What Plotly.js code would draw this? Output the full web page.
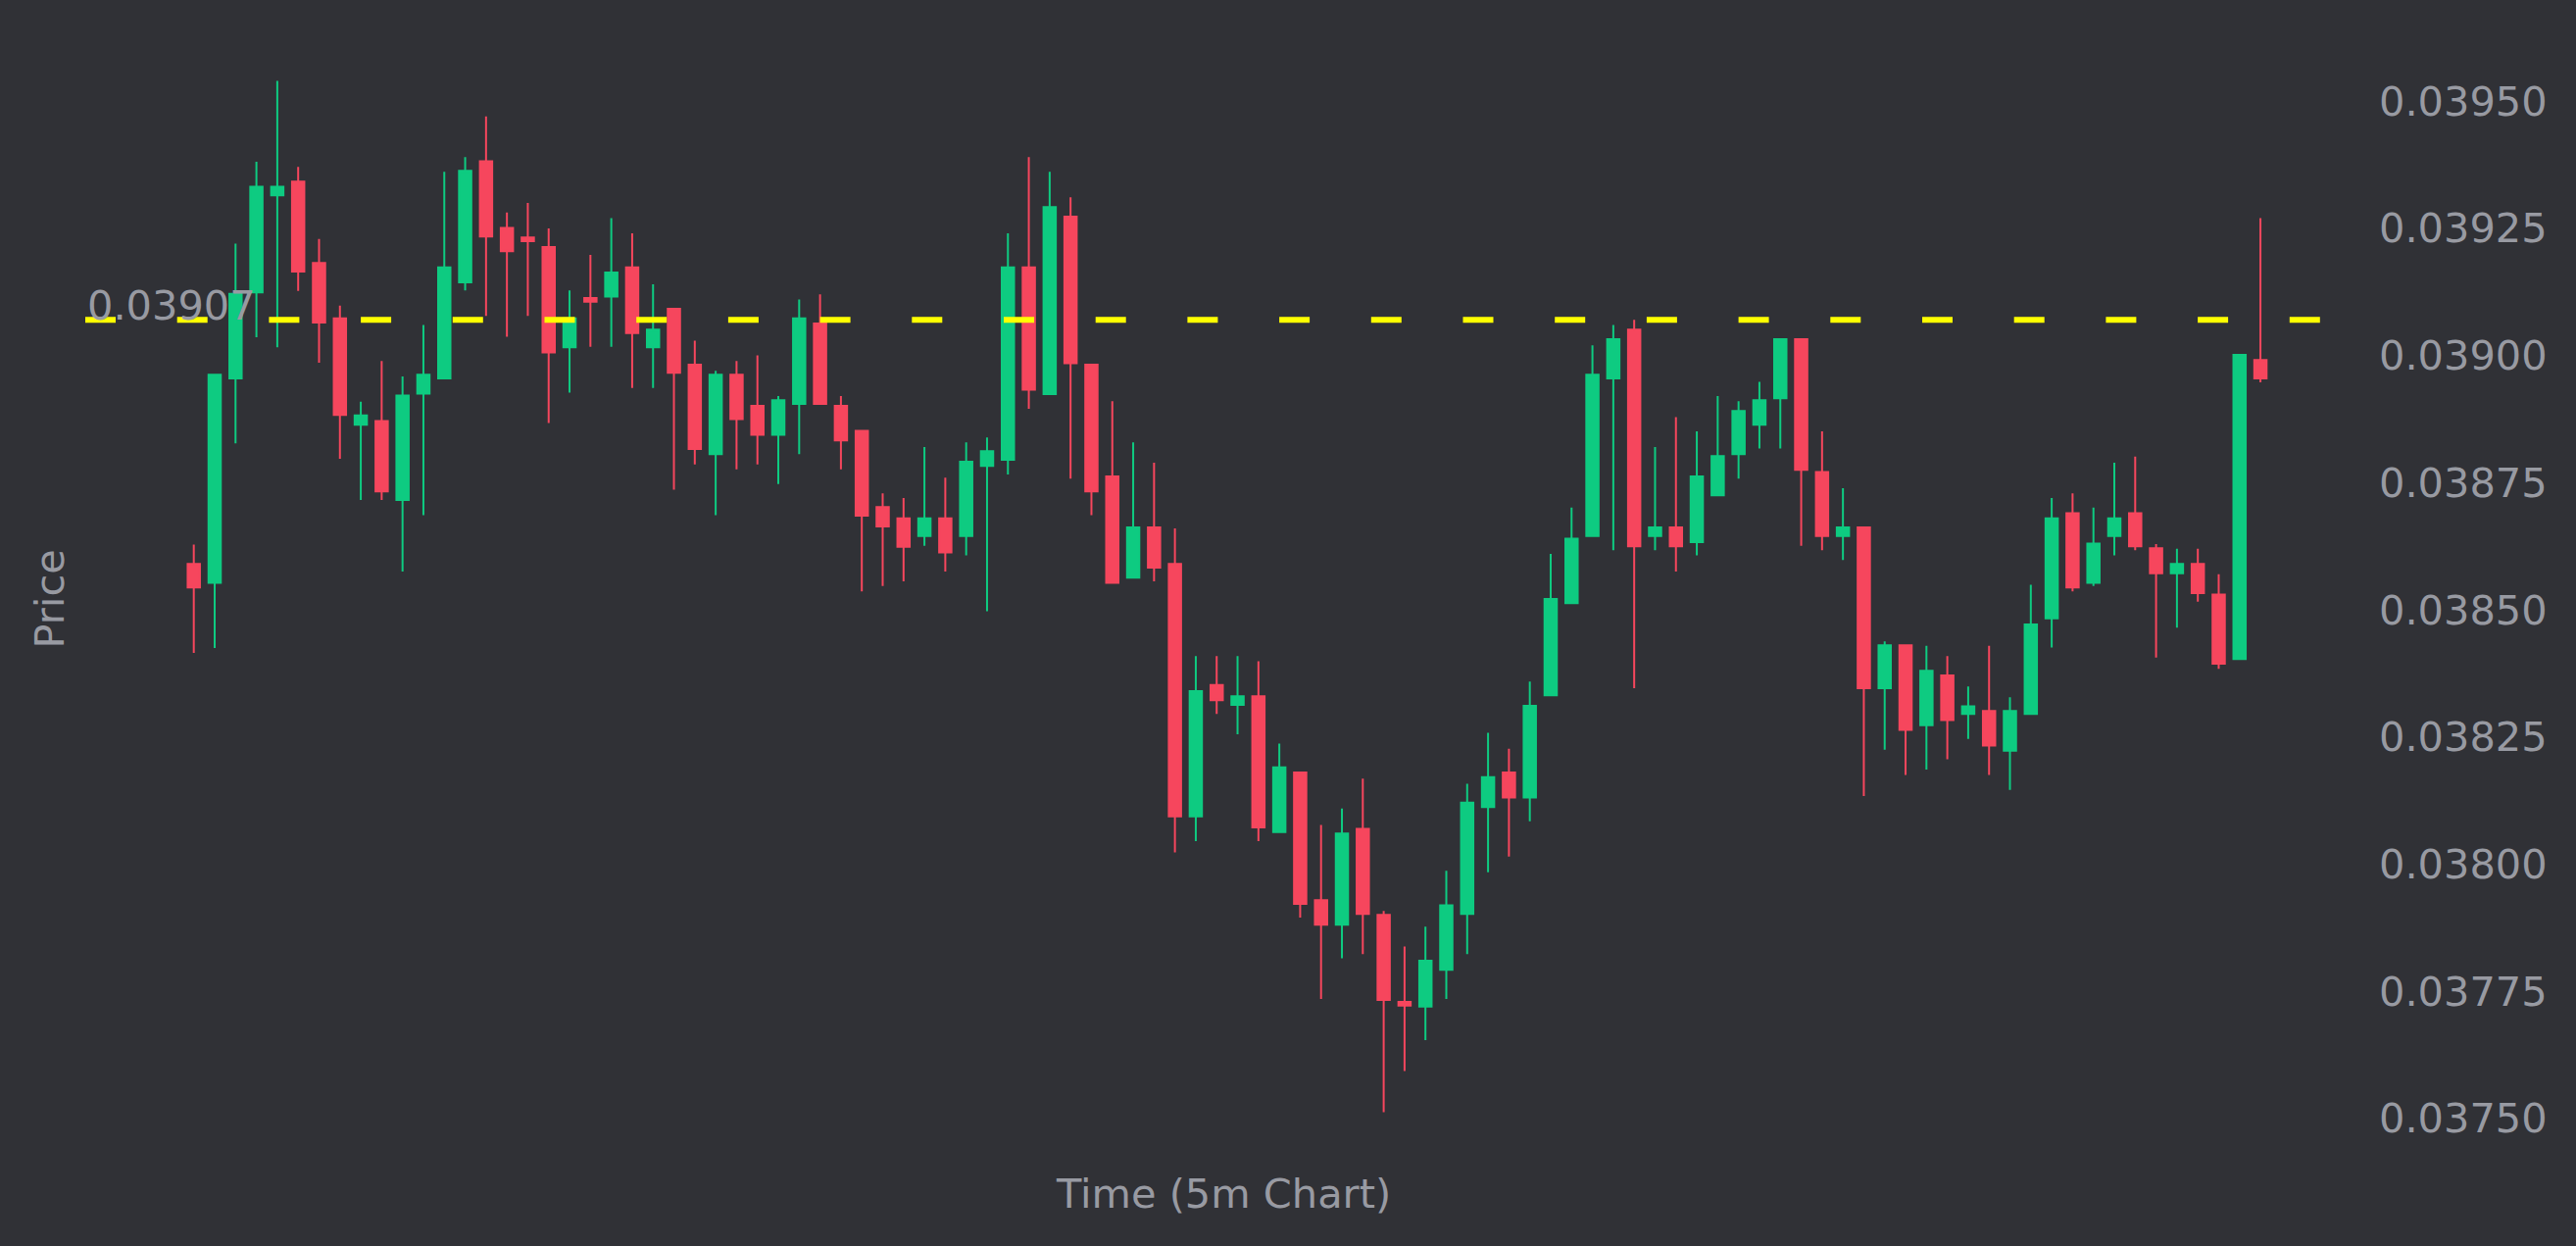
<!DOCTYPE html>
<html>
<head>
<meta charset="utf-8">
<script src="https://cdn.plot.ly/plotly-3.0.1.min.js"></script>
<style>
  html, body { margin: 0; padding: 0; background: #303136; }
  #chart { width: 2628px; height: 1271px; }
</style>
</head>
<body>
<div id="chart"></div>
<script>
// 5-minute candles, oldest first
const open = [
  0.038590, 0.038553, 0.038955, 0.039124, 0.039315, 0.039342, 0.039182, 0.039073, 0.038864, 0.038871,
  0.038716, 0.038925, 0.038955, 0.039144, 0.039382, 0.039251, 0.039232, 0.039213, 0.039016, 0.039113,
  0.039116, 0.039173, 0.039016, 0.039092, 0.038982, 0.038806, 0.038962, 0.038901, 0.038844, 0.038905,
  0.039063, 0.038901, 0.038852, 0.038702, 0.038680, 0.038645, 0.038680, 0.038645, 0.038783, 0.038795,
  0.039173, 0.038924, 0.039273, 0.038982, 0.038762, 0.038563, 0.038662, 0.038590, 0.038094, 0.038352,
  0.038313, 0.038330, 0.038063, 0.038180, 0.037929, 0.037881, 0.038069, 0.037900, 0.037729, 0.037720,
  0.037792, 0.037902, 0.038112, 0.038180, 0.038131, 0.038332, 0.038513, 0.038645, 0.038955, 0.039051,
  0.038645, 0.038662, 0.038633, 0.038725, 0.038806, 0.038864, 0.038916, 0.039032, 0.038771, 0.038645,
  0.038662, 0.038346, 0.038430, 0.038273, 0.038371, 0.038295, 0.038301, 0.038223, 0.038295, 0.038483,
  0.038690, 0.038553, 0.038645, 0.038690, 0.038621, 0.038572, 0.038590, 0.038530, 0.038403, 0.038991
];
const high = [
  0.038628, 0.038962, 0.039220, 0.039381, 0.039540, 0.039371, 0.039229, 0.039098, 0.038909, 0.038989,
  0.038959, 0.039060, 0.039361, 0.039390, 0.039470, 0.039281, 0.039300, 0.039250, 0.039128, 0.039198,
  0.039270, 0.039240, 0.039140, 0.039092, 0.039029, 0.038970, 0.038989, 0.039000, 0.038920, 0.039110,
  0.039120, 0.038920, 0.038852, 0.038729, 0.038720, 0.038820, 0.038760, 0.038829, 0.038839, 0.039240,
  0.039390, 0.039361, 0.039311, 0.038982, 0.038910, 0.038829, 0.038789, 0.038660, 0.038409, 0.038409,
  0.038409, 0.038399, 0.038237, 0.038180, 0.038077, 0.038109, 0.038168, 0.037908, 0.037838, 0.037877,
  0.037987, 0.038158, 0.038258, 0.038227, 0.038359, 0.038610, 0.038701, 0.039020, 0.039060, 0.039070,
  0.038820, 0.038879, 0.038851, 0.038920, 0.038910, 0.038948, 0.039032, 0.039032, 0.038851, 0.038739,
  0.038662, 0.038438, 0.038430, 0.038429, 0.038409, 0.038349, 0.038429, 0.038328, 0.038549, 0.038720,
  0.038729, 0.038701, 0.038789, 0.038801, 0.038629, 0.038620, 0.038620, 0.038570, 0.039001, 0.039270
];
const low = [
  0.038415, 0.038425, 0.038827, 0.039036, 0.039016, 0.039127, 0.038986, 0.038797, 0.038716, 0.038716,
  0.038575, 0.038686, 0.038955, 0.039128, 0.039078, 0.039037, 0.039078, 0.038867, 0.038927, 0.039017,
  0.039017, 0.038936, 0.038936, 0.038736, 0.038786, 0.038686, 0.038776, 0.038786, 0.038747, 0.038806,
  0.038905, 0.038776, 0.038536, 0.038547, 0.038556, 0.038626, 0.038575, 0.038607, 0.038497, 0.038766,
  0.038895, 0.038924, 0.038758, 0.038686, 0.038553, 0.038563, 0.038556, 0.038023, 0.038045, 0.038295,
  0.038255, 0.038045, 0.038063, 0.037895, 0.037735, 0.037815, 0.037823, 0.037512, 0.037593, 0.037654,
  0.037735, 0.037823, 0.037984, 0.038015, 0.038084, 0.038332, 0.038513, 0.038645, 0.038617, 0.038346,
  0.038617, 0.038575, 0.038607, 0.038725, 0.038758, 0.038817, 0.038817, 0.038626, 0.038617, 0.038598,
  0.038134, 0.038225, 0.038175, 0.038186, 0.038206, 0.038246, 0.038175, 0.038146, 0.038295, 0.038426,
  0.038536, 0.038547, 0.038607, 0.038617, 0.038406, 0.038465, 0.038516, 0.038384, 0.038403, 0.038947
];
const close = [
  0.038544, 0.038962, 0.039121, 0.039332, 0.039332, 0.039165, 0.039065, 0.038883, 0.038882, 0.038733,
  0.038921, 0.038962, 0.039173, 0.039363, 0.039234, 0.039205, 0.039225, 0.039006, 0.039073, 0.039106,
  0.039163, 0.039044, 0.039051, 0.038966, 0.038816, 0.038962, 0.038875, 0.038844, 0.038912, 0.039073,
  0.038905, 0.038833, 0.038685, 0.038664, 0.038624, 0.038680, 0.038613, 0.038791, 0.038812, 0.039173,
  0.038933, 0.039292, 0.038985, 0.038733, 0.038553, 0.038662, 0.038583, 0.038094, 0.038340, 0.038322,
  0.038330, 0.038072, 0.038190, 0.037922, 0.037881, 0.038060, 0.037902, 0.037733, 0.037722, 0.037810,
  0.037919, 0.038121, 0.038171, 0.038131, 0.038311, 0.038521, 0.038640, 0.038962, 0.039032, 0.038625,
  0.038662, 0.038625, 0.038762, 0.038802, 0.038891, 0.038912, 0.039032, 0.038775, 0.038645, 0.038662,
  0.038346, 0.038430, 0.038264, 0.038380, 0.038283, 0.038310, 0.038233, 0.038301, 0.038471, 0.038680,
  0.038544, 0.038630, 0.038680, 0.038625, 0.038572, 0.038590, 0.038533, 0.038394, 0.039001, 0.038955
];

// Price tick values on the right axis
const priceTicks = [0.03750, 0.03775, 0.03800, 0.03825, 0.03850, 0.03875, 0.03900, 0.03925, 0.03950];
const priceTickText = ['0.03750', '0.03775', '0.03800', '0.03825', '0.03850', '0.03875', '0.03900', '0.03925', '0.03950'];

// Horizontal reference level
const levelPrice = 0.03907;
const levelText = '0.03907';

const bg = '#303136';
const textGray = '#989aa2';
const upColor = '#0ecb81';
const downColor = '#f6465d';
const fontSize = 41.5;

const candleIndex = open.map((_, i) => i);

const trace = {
  type: 'candlestick',
  x: candleIndex,
  open: open,
  high: high,
  low: low,
  close: close,
  increasing: { line: { color: upColor, width: 2 }, fillcolor: upColor },
  decreasing: { line: { color: downColor, width: 2 }, fillcolor: downColor },
  whiskerwidth: 0,
  hoverinfo: 'none',
  showlegend: false
};

const layout = {
  width: 2628,
  height: 1271,
  paper_bgcolor: bg,
  plot_bgcolor: bg,
  font: { family: 'DejaVu Sans', color: textGray, size: fontSize },
  margin: { l: 87, r: 218, t: 24, b: 78, pad: 0 },
  boxgap: 0.16,
  boxgroupgap: 0.3,
  showlegend: false,
  xaxis: {
    range: [-5.198, 103.88],
    showgrid: false,
    zeroline: false,
    showline: false,
    showticklabels: false,
    ticks: '',
    rangeslider: { visible: false },
    title: { text: 'Time (5m Chart)', font: { family: 'DejaVu Sans', size: fontSize, color: textGray }, standoff: 9 }
  },
  yaxis: {
    side: 'right',
    range: [0.0373994, 0.0396527],
    tickvals: priceTicks,
    ticktext: priceTickText,
    showgrid: false,
    zeroline: false,
    showline: false,
    ticks: '',
    ticklabelstandoff: 16,
    tickfont: { family: 'DejaVu Sans', size: fontSize, color: textGray }
  },
  shapes: [{
    type: 'line',
    xref: 'paper', x0: 0, x1: 1,
    yref: 'y', y0: levelPrice, y1: levelPrice,
    line: { color: '#ffff00', width: 6, dash: '31px,62.7px' }
  }],
  annotations: [
    {
      xref: 'paper', x: 0, xanchor: 'left',
      yref: 'y', y: levelPrice, yanchor: 'bottom',
      yshift: -12,
      text: levelText,
      showarrow: false,
      font: { family: 'DejaVu Sans', size: fontSize, color: textGray }
    },
    {
      xref: 'paper', x: 0, xanchor: 'center', xshift: -37,
      yref: 'paper', y: 0.5, yanchor: 'middle',
      yshift: -3,
      text: 'Price',
      textangle: -90,
      showarrow: false,
      font: { family: 'DejaVu Sans', size: fontSize, color: textGray }
    }
  ]
};

Plotly.newPlot('chart', [trace], layout, { displayModeBar: false, staticPlot: true });
</script>
</body>
</html>
